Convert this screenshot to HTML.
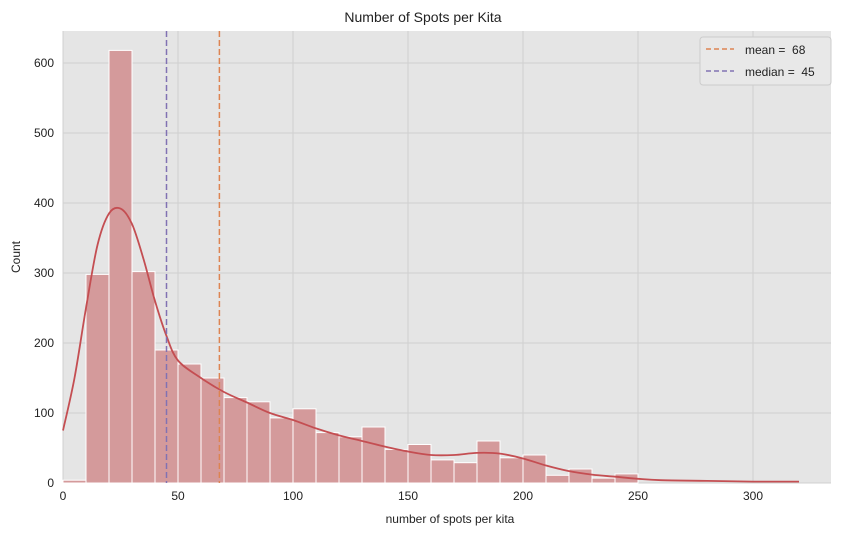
<!DOCTYPE html>
<html><head><meta charset="utf-8"><style>
body{margin:0;background:#fff;font-family:"Liberation Sans",sans-serif;}
svg text{font-family:"Liberation Sans",sans-serif;fill:#222;}
</style></head><body>
<svg id="chart" width="847" height="536">
<rect x="63" y="31" width="768" height="452" fill="#e5e5e5"/>
<g id="grid"></g><g id="bars"></g><g id="kde"></g><g id="lines"></g><g id="ticks"></g>
<text x="423" y="22" text-anchor="middle" font-size="14">Number of Spots per Kita</text>
<text x="450" y="523" text-anchor="middle" font-size="12">number of spots per kita</text>
<text transform="translate(20,257) rotate(-90)" text-anchor="middle" font-size="12">Count</text>
<g>
<rect x="700" y="37" width="131" height="48" rx="3" fill="#e8e8e8" stroke="#ccc"/>
<line x1="706" y1="49" x2="734" y2="49" stroke="#dd8452" stroke-width="1.5" stroke-dasharray="5,3"/>
<text x="745" y="54" font-size="12">mean = &#160;68</text>
<line x1="706" y1="71" x2="734" y2="71" stroke="#8172b3" stroke-width="1.5" stroke-dasharray="5,3"/>
<text x="745" y="76" font-size="12">median = &#160;45</text>
</g>
</svg>
<script>
const binStarts=[0,10,20,30,40,50,60,70,80,90,100,110,120,130,140,150,160,170,180,190,200,210,220,230,240];
const counts=[4,298,618,302,190,170,150,122,116,93,106,72,66,80,48,55,33,29,60,36,40,11,20,7,13];
const binWidth=10;
const kdeX=[0,5,10,15,20,25,30,35,40,45,50,60,70,80,90,100,110,120,130,140,150,160,170,180,190,200,210,220,230,240,250,260,280,300,320];
const kdeY=[75,150,250,340,385,392,370,320,260,210,175,150,130,115,100,90,78,68,60,52,45,40,40,43,42,35,25,17,12,9,6,4,3,2,2];
const xTicks=[0,50,100,150,200,250,300];
const yTicks=[0,100,200,300,400,500,600];
const meanVal=68, medianVal=45;
const NS="http://www.w3.org/2000/svg";
const X=v=>63+v*2.3, Y=v=>483-v*0.7;
function mk(t,a,p){const e=document.createElementNS(NS,t);for(const k in a)e.setAttribute(k,a[k]);document.getElementById(p).appendChild(e);return e;}
xTicks.forEach(t=>{
 const g=mk('line',{x1:X(t),x2:X(t),y1:31,y2:483,stroke:'#d0d0d0'},'grid');
 
 
 const l=mk('text',{x:X(t),y:500,'text-anchor':'middle','font-size':12},'ticks');l.textContent=t;
 
 
});
yTicks.forEach(t=>{
 const g=mk('line',{x1:63,x2:831,y1:Y(t),y2:Y(t),stroke:'#d0d0d0'},'grid');
 
 
 const l=mk('text',{x:54,y:Y(t)+4,'text-anchor':'end','font-size':12},'ticks');l.textContent=t;
 
 
});
binStarts.forEach((b,i)=>{
 const r=mk('rect',{x:X(b),y:Y(counts[i]),width:X(b+binWidth)-X(b),height:483-Y(counts[i]),fill:'#d49a9b',stroke:'#fff','stroke-width':1},'bars');
 
 
});
const pts=kdeX.map((x,i)=>[X(x),Y(kdeY[i])]);
let d='M'+pts[0][0]+','+pts[0][1];
for(let i=0;i<pts.length-1;i++){const p0=pts[Math.max(0,i-1)],p1=pts[i],p2=pts[i+1],p3=pts[Math.min(pts.length-1,i+2)];
 d+=` C${p1[0]+(p2[0]-p0[0])/6},${p1[1]+(p2[1]-p0[1])/6} ${p2[0]-(p3[0]-p1[0])/6},${p2[1]-(p3[1]-p1[1])/6} ${p2[0]},${p2[1]}`;}
const k=mk('path',{d:d,fill:'none',stroke:'#c44e52','stroke-width':1.8},'kde');


const m=mk('line',{x1:X(meanVal),x2:X(meanVal),y1:31,y2:483,stroke:'#dd8452','stroke-width':1.5,'stroke-dasharray':'6,3'},'lines');


const md=mk('line',{x1:X(medianVal),x2:X(medianVal),y1:31,y2:483,stroke:'#8172b3','stroke-width':1.5,'stroke-dasharray':'6,3'},'lines');


</script>
</body></html>
